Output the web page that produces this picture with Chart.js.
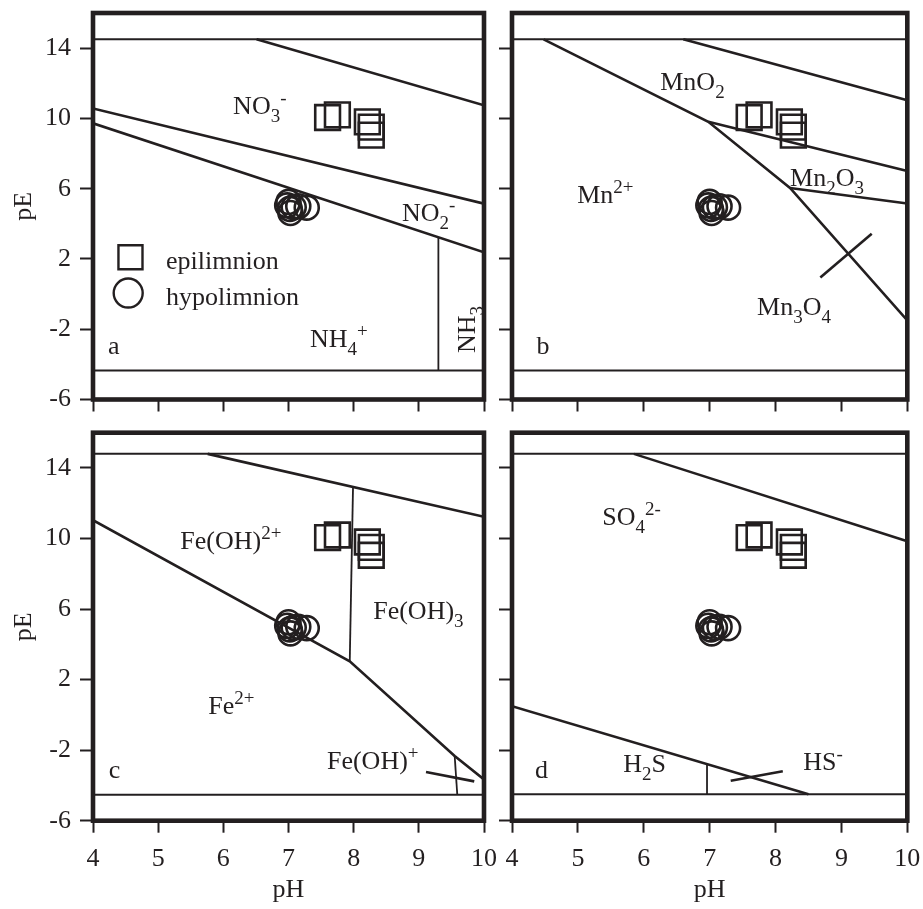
<!DOCTYPE html>
<html><head><meta charset="utf-8">
<script src="https://cdn.jsdelivr.net/npm/chart.js@4/dist/chart.umd.min.js"></script>
<style>
html,body{margin:0;padding:0;background:#fff;}
#wrap{position:relative;width:923px;height:909px;overflow:hidden;background:#fff;}
canvas{position:absolute;}
</style></head><body>
<div id="wrap">
<canvas id="ca" width="500" height="425" style="left:0;top:0"></canvas>
<canvas id="cb" width="431" height="425" style="left:492px;top:0"></canvas>
<canvas id="cc" width="500" height="484" style="left:0;top:425px"></canvas>
<canvas id="cd" width="431" height="484" style="left:492px;top:425px"></canvas>
</div>
<script>
// ---------- data ----------
const xTicks = [4, 5, 6, 7, 8, 9, 10];
const yTicks = [-6, -2, 2, 6, 10, 14];

const epiPH  = [7.60, 7.75, 8.21, 8.27, 8.27];
const epiPE  = [10.05, 10.20, 9.80, 9.50, 9.05];
const hypoPH = [7.00, 6.98, 7.02, 7.03, 7.08, 7.15, 7.28];
const hypoPE = [5.25, 5.05, 4.85, 4.62, 4.95, 5.00, 4.92];

// panel a : nitrogen
const aUpper = [[4, 14.5], [10, 14.5]];
const aLower = [[4, -4.35], [10, -4.35]];
const aO2    = [[6.51, 14.5], [10, 10.75]];
const aNO3   = [[4, 10.57], [10, 5.15]];
const aNO2   = [[4, 9.72], [10, 2.38]];
const aNH3   = [[9.3, 3.24], [9.3, -4.35]];

// panel b : manganese
const bUpper = [[4, 14.5], [10, 14.5]];
const bLower = [[4, -4.35], [10, -4.35]];
const bO2    = [[6.60, 14.5], [10, 11.04]];
const bMn2   = [[4.48, 14.5], [6.98, 9.81], [8.22, 6.04], [10, -1.5]];
const bMnO2  = [[6.98, 9.81], [10, 7.01]];
const bMn2O3 = [[8.22, 6.04], [10, 5.16]];
const bCross = [[8.68, 0.94], [9.46, 3.43]];

// panel c : iron
const cUpper = [[4, 14.8], [10, 14.8]];
const cLower = [[4, -4.53], [10, -4.53]];
const cO2    = [[5.76, 14.8], [10, 11.23]];
const cFeOH3 = [[7.99, 12.9], [7.94, 3.04]];
const cFe2   = [[4, 11.04], [7.94, 3.04], [9.55, -2.33], [10, -3.66]];
const cFeOH  = [[9.55, -2.33], [9.59, -4.53]];
const cCross = [[9.11, -3.24], [9.85, -3.77]];

// panel d : sulphur
const dUpper = [[4, 14.8], [10, 14.8]];
const dLower = [[4, -4.5], [10, -4.5]];
const dO2    = [[5.85, 14.8], [10, 9.85]];
const dSO4   = [[4, 0.49], [8.5, -4.5]];
const dH2S   = [[6.96, -2.79], [6.96, -4.5]];
const dCross = [[7.32, -3.73], [8.11, -3.2]];

// ---------- style ----------
const INK = '#231f20';
const SERIF = '"Liberation Serif", "Times New Roman", serif';
const FS = 26, SUB = 19;

const pts = arr => arr.map(p => ({x: p[0], y: p[1]}));
const zip = (xs, ys) => xs.map((v, i) => ({x: v, y: ys[i]}));

function lineDS(arr, w) {
  return {type: 'scatter', showLine: true, data: pts(arr), borderColor: INK,
    borderWidth: w, pointRadius: 0, pointHoverRadius: 0, fill: false, tension: 0, label: ''};
}
function markerSets() {
  return [
    {label: 'epilimnion', data: zip(epiPH, epiPE), pointStyle: 'rect', pointRadius: 17.5,
     borderColor: INK, backgroundColor: 'rgba(0,0,0,0)', pointBorderWidth: 2.6, borderWidth: 2.6, showLine: false},
    {label: 'hypolimnion', data: zip(hypoPH, hypoPE), pointStyle: 'circle', pointRadius: 12,
     borderColor: INK, backgroundColor: 'rgba(0,0,0,0)', pointBorderWidth: 2.6, borderWidth: 2.6, showLine: false}
  ];
}

// rich-text labels (chemical formulas) placed in data coordinates
function drawRich(ctx, str, x, y) {
  const parts = str.split(/(_\{[^}]*\}|\^\{[^}]*\})/).filter(s => s.length);
  let cx = x;
  for (const p of parts) {
    let txt = p, dy = 0, size = FS;
    if (p.startsWith('_{')) { txt = p.slice(2, -1); dy = 8; size = SUB; }
    else if (p.startsWith('^{')) { txt = p.slice(2, -1); dy = -10; size = SUB; }
    ctx.font = size + 'px ' + SERIF;
    ctx.fillText(txt, cx, y + dy);
    cx += ctx.measureText(txt).width;
  }
}
const chemLabels = {
  id: 'chemLabels',
  afterDatasetsDraw(chart, args, opts) {
    const ctx = chart.ctx, xs = chart.scales.x, ys = chart.scales.y;
    ctx.save();
    ctx.fillStyle = INK;
    ctx.textBaseline = 'alphabetic';
    ctx.textAlign = 'left';
    for (const it of (opts.items || [])) {
      const px = xs.getPixelForValue(it.x), py = ys.getPixelForValue(it.y);
      if (it.rot) {
        ctx.save(); ctx.translate(px, py); ctx.rotate(it.rot);
        drawRich(ctx, it.t, 0, 0); ctx.restore();
      } else drawRich(ctx, it.t, px, py);
    }
    ctx.restore();
  }
};
const frame = {
  id: 'frame',
  afterDraw(chart) {
    const a = chart.chartArea, ctx = chart.ctx;
    ctx.save();
    ctx.strokeStyle = INK; ctx.lineWidth = 4.6;
    ctx.strokeRect(a.left, a.top, a.right - a.left, a.bottom - a.top);
    ctx.restore();
  }
};
// in-plot legend (panel a) built from the marker datasets
const inLegend = {
  id: 'inLegend',
  afterDatasetsDraw(chart, args, opts) {
    if (!opts.items) return;
    const ctx = chart.ctx, xs = chart.scales.x, ys = chart.scales.y;
    ctx.save();
    for (const it of opts.items) {
      const ds = chart.data.datasets[it.ds];
      const mx = xs.getPixelForValue(it.mx), my = ys.getPixelForValue(it.my);
      ctx.strokeStyle = INK; ctx.lineWidth = 2.4; ctx.fillStyle = 'rgba(0,0,0,0)';
      Chart.helpers.drawPoint(ctx, {pointStyle: ds.pointStyle, radius: it.r, rotation: 0, borderWidth: 2.4}, mx, my);
      ctx.fillStyle = INK; ctx.font = FS + 'px ' + SERIF;
      ctx.textAlign = 'left'; ctx.textBaseline = 'alphabetic';
      ctx.fillText(ds.label, xs.getPixelForValue(it.tx), my + it.dy);
    }
    ctx.restore();
  }
};

function noPad(s) { s.paddingLeft = 0; s.paddingRight = 0; s.paddingTop = 0; s.paddingBottom = 0; }

function scales(opt) {
  return {
    x: {type: 'linear', min: 4, max: 10, position: 'bottom',
      afterBuildTicks: s => { s.ticks = xTicks.map(v => ({value: v})); },
      afterFit: s => { s.height = opt.xh; noPad(s); },
      grid: {display: true, drawOnChartArea: false, drawTicks: true, tickLength: 12, tickWidth: 2, tickColor: INK},
      border: {display: false},
      ticks: {display: opt.xLab, color: INK, font: {family: SERIF, size: FS}, padding: 11, maxRotation: 0, autoSkip: false},
      title: {display: opt.xTitle, text: 'pH', color: INK, font: {family: SERIF, size: FS}, padding: {top: 0, bottom: 3}}
    },
    y: {type: 'linear', min: -6, max: 16, position: 'left',
      afterBuildTicks: s => { s.ticks = yTicks.map(v => ({value: v})); },
      afterFit: s => { s.width = opt.yw; noPad(s); },
      grid: {display: true, drawOnChartArea: false, drawTicks: true, tickLength: 13, tickWidth: 2, tickColor: INK},
      border: {display: false},
      ticks: {display: opt.yLab, color: INK, font: {family: SERIF, size: FS}, padding: 9, autoSkip: false},
      title: {display: opt.yTitle, text: 'pE', color: INK, font: {family: SERIF, size: FS}, padding: {top: 9, bottom: 0}}
    }
  };
}

function make(id, lines, labels, opt, legendItems) {
  const datasets = lines.map(l => lineDS(l[0], l[1])).concat(markerSets());
  return new Chart(document.getElementById(id), {
    type: 'scatter',
    data: {datasets},
    plugins: [chemLabels, inLegend, frame],
    options: {
      responsive: false, animation: false, devicePixelRatio: 1,
      layout: {padding: opt.pad, autoPadding: false},
      scales: scales(opt),
      plugins: {
        legend: {display: false}, tooltip: {enabled: false},
        chemLabels: {items: labels},
        inLegend: {items: legendItems || null}
      }
    }
  });
}

const HW = 2.0, SL = 2.6, VL = 1.8;

make('ca',
  [[aUpper, HW], [aLower, HW], [aO2, SL], [aNO3, SL], [aNO2, SL], [aNH3, VL]],
  [
    {x: 6.15, y: 10.23, t: 'NO_{3}^{-}'},
    {x: 8.74, y: 4.18, t: 'NO_{2}^{-}'},
    {x: 7.33, y: -3.0, t: 'NH_{4}^{+}'},
    {x: 9.86, y: -3.35, t: 'NH_{3}', rot: -Math.PI / 2},
    {x: 4.23, y: -3.41, t: 'a'}
  ],
  {xh: 25.5, yw: 93, pad: {top: 13, right: 16, left: 0, bottom: 0}, xLab: false, yLab: true, xTitle: false, yTitle: true},
  [{ds: 6, mx: 4.575, my: 2.10, r: 17, tx: 5.12, dy: 11.5},
   {ds: 7, mx: 4.54, my: 0.06, r: 14.5, tx: 5.12, dy: 12.2}]
);

make('cb',
  [[bUpper, HW], [bLower, HW], [bO2, SL], [bMn2, SL], [bMnO2, SL], [bMn2O3, SL], [bCross, SL]],
  [
    {x: 6.25, y: 11.64, t: 'MnO_{2}'},
    {x: 4.99, y: 5.16, t: 'Mn^{2+}'},
    {x: 8.22, y: 6.16, t: 'Mn_{2}O_{3}'},
    {x: 7.72, y: -1.2, t: 'Mn_{3}O_{4}'},
    {x: 4.37, y: -3.41, t: 'b'}
  ],
  {xh: 25.5, yw: 20, pad: {top: 13, right: 15.7, left: 0, bottom: 0}, xLab: false, yLab: false, xTitle: false, yTitle: false}
);

make('cc',
  [[cUpper, HW], [cLower, HW], [cO2, SL], [cFeOH3, VL], [cFe2, SL], [cFeOH, VL], [cCross, SL]],
  [
    {x: 5.34, y: 9.38, t: 'Fe(OH)^{2+}'},
    {x: 8.30, y: 5.42, t: 'Fe(OH)_{3}'},
    {x: 5.77, y: 0.04, t: 'Fe^{2+}'},
    {x: 7.59, y: -3.07, t: 'Fe(OH)^{+}'},
    {x: 4.24, y: -3.58, t: 'c'}
  ],
  {xh: 88.3, yw: 93, pad: {top: 7.7, right: 16, left: 0, bottom: 0}, xLab: true, yLab: true, xTitle: true, yTitle: true}
);

make('cd',
  [[dUpper, HW], [dLower, HW], [dO2, SL], [dSO4, SL], [dH2S, VL], [dCross, SL]],
  [
    {x: 5.37, y: 10.76, t: 'SO_{4}^{2-}'},
    {x: 5.69, y: -3.26, t: 'H_{2}S'},
    {x: 8.42, y: -3.11, t: 'HS^{-}'},
    {x: 4.35, y: -3.58, t: 'd'}
  ],
  {xh: 88.3, yw: 20, pad: {top: 7.7, right: 15.7, left: 0, bottom: 0}, xLab: true, yLab: false, xTitle: true, yTitle: false}
);
</script>
</body></html>
